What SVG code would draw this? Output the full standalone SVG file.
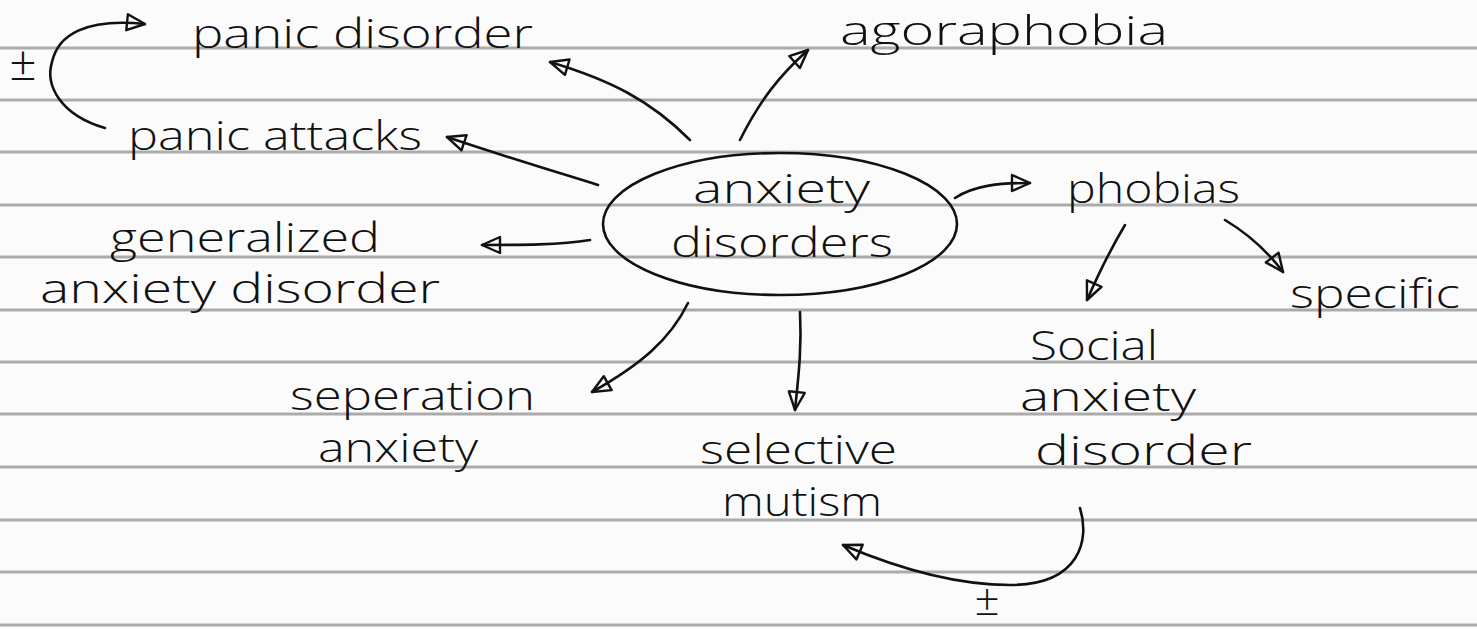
<svg xmlns="http://www.w3.org/2000/svg" width="1477" height="629" viewBox="0 0 1477 629">
<style>
.ink{fill:none;stroke:#111;stroke-width:2.6;stroke-linecap:round;stroke-linejoin:round}
.rule{stroke:#ababab;stroke-width:3}
text{font-family:"Open Sans","Liberation Sans",sans-serif;font-weight:300;fill:#111;font-size:40px}
text.pm{text-anchor:middle;font-size:48px}
text.pm2{text-anchor:middle;font-size:44px}
</style>
<defs>
<marker id="tri" viewBox="0 0 24 20" refX="21" refY="10" markerWidth="24" markerHeight="20" markerUnits="userSpaceOnUse" orient="auto">
<path d="M3,2 L21,10 L3,18 Z" fill="none" stroke="#111" stroke-width="2.4" stroke-linejoin="round"/>
</marker>
</defs>
<rect width="1477" height="629" fill="#fbfbfb"/>
<g id="paper">
<line class="rule" x1="0" y1="48" x2="1477" y2="48"/>
<line class="rule" x1="0" y1="100" x2="1477" y2="100"/>
<line class="rule" x1="0" y1="152" x2="1477" y2="152"/>
<line class="rule" x1="0" y1="205" x2="1477" y2="205"/>
<line class="rule" x1="0" y1="257" x2="1477" y2="257"/>
<line class="rule" x1="0" y1="310" x2="1477" y2="310"/>
<line class="rule" x1="0" y1="362" x2="1477" y2="362"/>
<line class="rule" x1="0" y1="414" x2="1477" y2="414"/>
<line class="rule" x1="0" y1="467" x2="1477" y2="467"/>
<line class="rule" x1="0" y1="520" x2="1477" y2="520"/>
<line class="rule" x1="0" y1="572" x2="1477" y2="572"/>
<line class="rule" x1="0" y1="625" x2="1477" y2="625"/>
</g>
<g id="connectors">
<path class="ink" d="M105,128 C60,115 45,85 52,62 C58,35 85,18 145,24" marker-end="url(#tri)"/>
<path class="ink" d="M690,140 C650,100 610,80 550,62" marker-end="url(#tri)"/>
<path class="ink" d="M598,185 C550,170 500,155 447,137" marker-end="url(#tri)"/>
<path class="ink" d="M740,140 C760,100 780,75 808,50" marker-end="url(#tri)"/>
<path class="ink" d="M590,240 C560,245 520,245 482,245" marker-end="url(#tri)"/>
<path class="ink" d="M688,303 C670,340 640,365 592,392" marker-end="url(#tri)"/>
<path class="ink" d="M800,312 C802,350 798,380 795,410" marker-end="url(#tri)"/>
<path class="ink" d="M955,198 C975,185 1000,183 1030,183" marker-end="url(#tri)"/>
<path class="ink" d="M1125,225 C1110,250 1098,275 1087,300" marker-end="url(#tri)"/>
<path class="ink" d="M1225,220 C1250,235 1268,252 1283,272" marker-end="url(#tri)"/>
<path class="ink" d="M1080,508 C1090,540 1080,585 1010,585 C950,585 890,565 843,545" marker-end="url(#tri)"/>
<text class="pm" x="23" y="80">±</text>
<text class="pm2" x="987" y="615">±</text>
</g>
<g id="center">
<ellipse class="ink" cx="780" cy="224" rx="177" ry="71"/>
<text x="693" y="203" textLength="177" lengthAdjust="spacingAndGlyphs">anxiety</text>
<text x="671" y="257" textLength="222" lengthAdjust="spacingAndGlyphs">disorders</text>
</g>
<g id="panic-disorder"><text x="192" y="48" textLength="341" lengthAdjust="spacingAndGlyphs">panic disorder</text></g>
<g id="panic-attacks"><text x="128" y="150" textLength="294" lengthAdjust="spacingAndGlyphs">panic attacks</text></g>
<g id="agoraphobia"><text x="840" y="45" textLength="328" lengthAdjust="spacingAndGlyphs">agoraphobia</text></g>
<g id="phobias"><text x="1067" y="203" textLength="173" lengthAdjust="spacingAndGlyphs">phobias</text></g>
<g id="specific"><text x="1290" y="308" textLength="170" lengthAdjust="spacingAndGlyphs">specific</text></g>
<g id="gad">
<text x="110" y="252" textLength="270" lengthAdjust="spacingAndGlyphs">generalized</text>
<text x="40" y="303" textLength="400" lengthAdjust="spacingAndGlyphs">anxiety disorder</text>
</g>
<g id="separation">
<text x="290" y="410" textLength="245" lengthAdjust="spacingAndGlyphs">seperation</text>
<text x="318" y="462" textLength="160" lengthAdjust="spacingAndGlyphs">anxiety</text>
</g>
<g id="selective-mutism">
<text x="700" y="464" textLength="197" lengthAdjust="spacingAndGlyphs">selective</text>
<text x="722" y="516" textLength="160" lengthAdjust="spacingAndGlyphs">mutism</text>
</g>
<g id="social-anxiety">
<text x="1030" y="360" textLength="128" lengthAdjust="spacingAndGlyphs">Social</text>
<text x="1020" y="411" textLength="176" lengthAdjust="spacingAndGlyphs">anxiety</text>
<text x="1035" y="465" textLength="217" lengthAdjust="spacingAndGlyphs">disorder</text>
</g>
</svg>
